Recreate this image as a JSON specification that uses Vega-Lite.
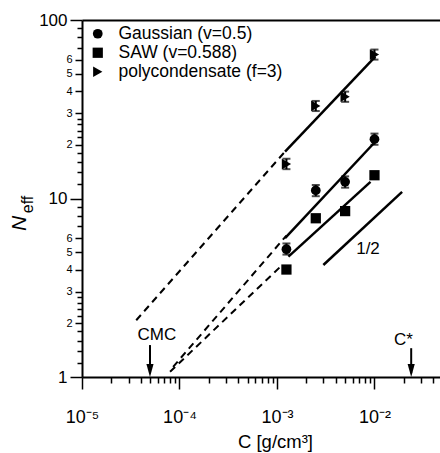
{
  "$schema": "https://vega.github.io/schema/vega-lite/v6.json",
  "width": 358,
  "height": 357,
  "autosize": {"type": "none"},
  "padding": {"left": 82, "top": 20, "right": 0, "bottom": 76},
  "config": {"font": "Liberation Sans", "view": {"stroke": null}},
  "datasets": {
    "lines": [
      {"series": "poly", "seg": "dashed", "x": 0.000036, "y": 2.08},
      {"series": "poly", "seg": "dashed", "x": 0.00124, "y": 18.6},
      {"series": "poly", "seg": "solid", "x": 0.00121, "y": 18.3},
      {"series": "poly", "seg": "solid", "x": 0.0102, "y": 62.3},
      {"series": "gauss", "seg": "dashed", "x": 0.000086, "y": 1.14},
      {"series": "gauss", "seg": "dashed", "x": 0.00125, "y": 6.2},
      {"series": "gauss", "seg": "solid", "x": 0.00121, "y": 6.0},
      {"series": "gauss", "seg": "solid", "x": 0.00985, "y": 20.4},
      {"series": "saw", "seg": "dashed", "x": 0.00008, "y": 1.07},
      {"series": "saw", "seg": "dashed", "x": 0.00113, "y": 4.24},
      {"series": "saw", "seg": "solid", "x": 0.00131, "y": 4.72},
      {"series": "saw", "seg": "solid", "x": 0.0091, "y": 12.4},
      {"series": "half", "seg": "solid", "x": 0.00299, "y": 4.24},
      {"series": "half", "seg": "solid", "x": 0.0192, "y": 10.9}
    ],
    "points": [
      {"series": "Gaussian (v=0.5)", "x": 0.00125, "y": 5.2, "lo": 4.85, "hi": 5.6},
      {"series": "Gaussian (v=0.5)", "x": 0.0025, "y": 11.1, "lo": 10.3, "hi": 11.9},
      {"series": "Gaussian (v=0.5)", "x": 0.005, "y": 12.4, "lo": 11.5, "hi": 13.3},
      {"series": "Gaussian (v=0.5)", "x": 0.01, "y": 21.5, "lo": 20, "hi": 23.1},
      {"series": "SAW (v=0.588)", "x": 0.00125, "y": 4.0, "lo": 3.9, "hi": 4.1},
      {"series": "SAW (v=0.588)", "x": 0.0025, "y": 7.75, "lo": 7.5, "hi": 8.0},
      {"series": "SAW (v=0.588)", "x": 0.005, "y": 8.5, "lo": 8.25, "hi": 8.75},
      {"series": "SAW (v=0.588)", "x": 0.01, "y": 13.5, "lo": 13.1, "hi": 13.9},
      {"series": "polycondensate (f=3)", "x": 0.00125, "y": 15.6, "lo": 14.6, "hi": 16.7},
      {"series": "polycondensate (f=3)", "x": 0.0025, "y": 33, "lo": 30.9, "hi": 35.2},
      {"series": "polycondensate (f=3)", "x": 0.005, "y": 37.2, "lo": 34.8, "hi": 39.7},
      {"series": "polycondensate (f=3)", "x": 0.01, "y": 64, "lo": 60, "hi": 68.3}
    ],
    "arrows": [
      {"name": "CMC", "x": 0.0000498, "y1": 1.51, "y2": 1.05},
      {"name": "C*", "x": 0.0238, "y1": 1.45, "y2": 1.05}
    ],
    "heads": [
      {"name": "CMC", "x": 0.0000498, "y": 1.0},
      {"name": "C*", "x": 0.0238, "y": 1.0}
    ],
    "notes": [
      {"label": "CMC", "x": 0.0000587, "y": 1.72},
      {"label": "C*", "x": 0.0198, "y": 1.61},
      {"label": "1/2", "x": 0.00858, "y": 5.21}
    ]
  },
  "resolve": {"axis": {"x": "independent", "y": "independent"}},
  "layer": [
    {
      "data": {"name": "lines"},
      "transform": [{"filter": "datum.seg == 'solid'"}],
      "mark": {"type": "line", "color": "black", "strokeWidth": 2.5},
      "encoding": {
        "x": {
          "field": "x", "type": "quantitative",
          "scale": {"type": "log", "domain": [0.00001, 0.047], "nice": false},
          "axis": {
            "orient": "bottom",
            "values": [0.00001, 0.00002, 0.00003, 0.00004, 0.00005, 0.00006, 0.00007, 0.00008, 0.00009, 0.0001, 0.0002, 0.0003, 0.0004, 0.0005, 0.0006, 0.0007, 0.0008, 0.0009, 0.001, 0.002, 0.003, 0.004, 0.005, 0.006, 0.007, 0.008, 0.009, 0.01, 0.02, 0.03, 0.04],
            "labelExpr": "datum.value==0.00001?'10⁻⁵':datum.value==0.0001?'10⁻⁴':datum.value==0.001?'10⁻³':datum.value==0.01?'10⁻²':''",
            "labelFontSize": 18,
            "labelColor": "black",
            "labelPadding": 19,
            "labelFlush": false,
            "labelOverlap": false,
            "tickSize": {"condition": {"test": "datum.value==0.00001||datum.value==0.0001||datum.value==0.001||datum.value==0.01", "value": 12}, "value": 6},
            "tickColor": "black",
            "tickWidth": 1.5,
            "domainColor": "black",
            "domainWidth": 2,
            "grid": false,
            "title": "C [g/cm³]",
            "titleFontSize": 18.5,
            "titleFontWeight": "normal",
            "titleColor": "black",
            "titleX": 193,
            "titleY": 70,
            "titleAlign": "center",
            "titleBaseline": "alphabetic"
          }
        },
        "y": {
          "field": "y", "type": "quantitative",
          "scale": {"type": "log", "domain": [1, 100], "nice": false},
          "axis": {
            "orient": "left",
            "values": [1, 1.2, 1.4, 1.6, 1.8, 2, 2.2, 2.4, 2.6, 2.8, 3, 4, 5, 6, 7, 8, 9, 10, 12, 14, 16, 18, 20, 22, 24, 26, 28, 30, 40, 50, 60, 70, 80, 90, 100],
            "labelExpr": "(datum.value==1||datum.value==10||datum.value==100||(datum.value>=2&&datum.value<=6&&datum.value==floor(datum.value))) ? format(datum.value,'d') : ((datum.value>=20&&datum.value<=60&&datum.value%10==0) ? format(datum.value/10,'d') : '')",
            "labelFontSize": {"condition": {"test": "datum.value==1||datum.value==10||datum.value==100", "value": 17}, "value": 11},
            "labelColor": "black",
            "labelPadding": 3,
            "labelFlush": false,
            "labelOverlap": false,
            "tickSize": {"condition": [
              {"test": "datum.value==1||datum.value==10||datum.value==100", "value": 12},
              {"test": "(datum.value>=2&&datum.value<=6&&datum.value==floor(datum.value))||(datum.value>=20&&datum.value<=60&&datum.value%10==0)", "value": 7}
            ], "value": 5},
            "tickColor": "black",
            "tickWidth": 1.5,
            "domainColor": "black",
            "domainWidth": 2,
            "grid": false,
            "title": "N",
            "titleFontSize": 21,
            "titleFontStyle": "italic",
            "titleFontWeight": "normal",
            "titleColor": "black",
            "titleAngle": -90,
            "titleX": -57,
            "titleY": 203,
            "titleAlign": "center",
            "titleBaseline": "alphabetic"
          }
        },
        "detail": {"field": "series"}
      }
    },
    {
      "data": {"name": "lines"},
      "transform": [{"filter": "datum.seg == 'dashed'"}],
      "mark": {"type": "line", "color": "black", "strokeWidth": 2, "strokeDash": [7, 5]},
      "encoding": {
        "x": {
          "field": "x", "type": "quantitative",
          "scale": {"type": "log", "domain": [0.00001, 0.047], "nice": false},
          "axis": {"orient": "top", "labels": false, "ticks": false, "domain": true, "domainColor": "black", "domainWidth": 2, "grid": false, "title": null}
        },
        "y": {
          "field": "y", "type": "quantitative",
          "scale": {"type": "log", "domain": [1, 100], "nice": false},
          "axis": {
            "orient": "left", "labels": false, "ticks": false, "domain": false, "grid": false,
            "title": "eff",
            "titleFontSize": 16,
            "titleFontWeight": "normal",
            "titleColor": "black",
            "titleAngle": -90,
            "titleX": -50,
            "titleY": 184,
            "titleAlign": "center",
            "titleBaseline": "alphabetic"
          }
        },
        "detail": {"field": "series"}
      }
    },
    {
      "data": {"name": "points"},
      "mark": {"type": "rule", "color": "black", "strokeWidth": 2},
      "encoding": {
        "x": {"field": "x", "type": "quantitative", "scale": {"type": "log"}, "axis": null},
        "y": {"field": "lo", "type": "quantitative", "scale": {"type": "log"}, "axis": null},
        "y2": {"field": "hi"}
      }
    },
    {
      "data": {"name": "points"},
      "mark": {"type": "tick", "orient": "horizontal", "color": "black", "size": 8, "thickness": 2},
      "encoding": {
        "x": {"field": "x", "type": "quantitative", "scale": {"type": "log"}, "axis": null},
        "y": {"field": "lo", "type": "quantitative", "scale": {"type": "log"}, "axis": null}
      }
    },
    {
      "data": {"name": "points"},
      "mark": {"type": "tick", "orient": "horizontal", "color": "black", "size": 8, "thickness": 2},
      "encoding": {
        "x": {"field": "x", "type": "quantitative", "scale": {"type": "log"}, "axis": null},
        "y": {"field": "hi", "type": "quantitative", "scale": {"type": "log"}, "axis": null}
      }
    },
    {
      "data": {"name": "points"},
      "mark": {"type": "point", "filled": true, "color": "black", "opacity": 1},
      "encoding": {
        "x": {"field": "x", "type": "quantitative", "scale": {"type": "log"}, "axis": null},
        "y": {"field": "y", "type": "quantitative", "scale": {"type": "log"}, "axis": null},
        "shape": {
          "field": "series", "type": "nominal",
          "scale": {"domain": ["Gaussian (v=0.5)", "SAW (v=0.588)", "polycondensate (f=3)"], "range": ["circle", "square", "triangle-right"]},
          "legend": {
            "orient": "none", "legendX": 7, "legendY": 5, "title": null,
            "labelFontSize": 17.5, "labelColor": "black", "labelOffset": 12, "labelLimit": 400,
            "symbolFillColor": "black", "symbolStrokeColor": "black", "symbolStrokeWidth": 0, "symbolOpacity": 1,
            "rowPadding": 0, "padding": 0
          }
        },
        "size": {
          "field": "series", "type": "nominal",
          "scale": {"domain": ["Gaussian (v=0.5)", "SAW (v=0.588)", "polycondensate (f=3)"], "range": [95, 115, 150]},
          "legend": {
            "orient": "none", "legendX": 7, "legendY": 5, "title": null,
            "labelFontSize": 17.5, "labelColor": "black", "labelOffset": 12, "labelLimit": 400,
            "symbolFillColor": "black", "symbolStrokeColor": "black", "symbolStrokeWidth": 0, "symbolOpacity": 1,
            "rowPadding": 0, "padding": 0
          }
        }
      }
    },
    {
      "data": {"name": "arrows"},
      "mark": {"type": "rule", "color": "black", "strokeWidth": 2},
      "encoding": {
        "x": {"field": "x", "type": "quantitative", "scale": {"type": "log"}, "axis": null},
        "y": {"field": "y1", "type": "quantitative", "scale": {"type": "log"}, "axis": null},
        "y2": {"field": "y2"}
      }
    },
    {
      "data": {"name": "heads"},
      "mark": {"type": "point", "filled": true, "color": "black", "opacity": 1, "size": 169, "shape": "M -0.55 -2 L 0.55 -2 L 0 0 Z", "strokeWidth": 0},
      "encoding": {
        "x": {"field": "x", "type": "quantitative", "scale": {"type": "log"}, "axis": null},
        "y": {"field": "y", "type": "quantitative", "scale": {"type": "log"}, "axis": null}
      }
    },
    {
      "data": {"name": "notes"},
      "mark": {"type": "text", "color": "black", "fontSize": 17, "align": "center", "baseline": "middle"},
      "encoding": {
        "x": {"field": "x", "type": "quantitative", "scale": {"type": "log"}, "axis": null},
        "y": {"field": "y", "type": "quantitative", "scale": {"type": "log"}, "axis": null},
        "text": {"field": "label"}
      }
    }
  ]
}
